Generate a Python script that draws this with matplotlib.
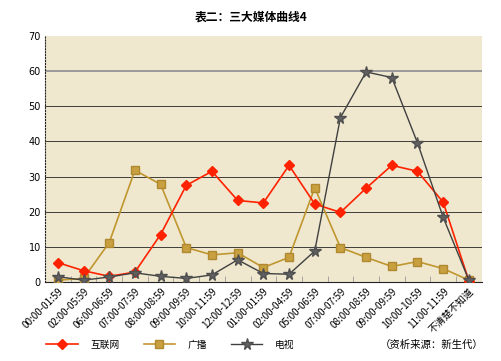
import matplotlib
matplotlib.use("Agg")
import matplotlib.pyplot as plt
from matplotlib.lines import Line2D

plt.rcParams['font.family'] = ['Noto Sans CJK SC', 'DejaVu Sans']

categories = ["00:00-01:59", "02:00-05:59", "06:00-06:59", "07:00-07:59", "08:00-08:59",
              "09:00-09:59", "10:00-11:59", "12:00-12:59", "01:00-01:59", "02:00-04:59",
              "05:00-06:59", "07:00-07:59", "08:00-08:59", "09:00-09:59", "10:00-10:59",
              "11:00-11:59", "不清楚不知道"]
internet = [5.5, 3.2, 1.6, 2.8, 13.5, 27.5, 31.5, 23.2, 22.5, 33.2, 22.2, 19.8, 26.7, 33.2, 31.5, 22.7, 0.3]
radio = [0.5, 1.0, 11.2, 31.8, 27.8, 9.8, 7.7, 8.3, 4.1, 7.0, 26.8, 9.8, 7.0, 4.4, 5.8, 3.8, 0.5]
tv = [1.5, 0.5, 1.4, 2.6, 1.6, 1.0, 2.0, 6.3, 2.4, 2.2, 8.8, 46.8, 59.8, 58.2, 39.6, 18.4, 0.5]
series_names = ["互联网", "广播", "电视"]
yticks = [0, 10, 20, 30, 40, 50, 60, 70]

fig = plt.figure(figsize=(5.02, 3.61), dpi=100)
ax = fig.add_axes([0.0896, 0.219, 0.870, 0.681])
ax.set_facecolor('#EFE8CF')
x = list(range(len(categories)))

for yv in yticks[1:-1]:
    ax.axhline(yv, color='#999999' if yv == 60 else '#222222', lw=1.4 if yv == 60 else 0.6, zorder=1)

style_r = dict(color='#C0962E', lw=1.2, marker='s', ms=5.5, mfc='#C8A040', mec='#B08830')
style_i = dict(color='#FF2200', lw=1.2, marker='D', ms=5, mfc='#FF2200', mec='#FF2200')
style_t = dict(color='#404040', lw=1.0, marker='*', ms=8.5, mfc='#606060', mec='#505050')

ax.plot(x, radio, zorder=3, **style_r)
ax.plot(x, internet, zorder=4, **style_i)
ax.plot(x, tv, zorder=5, **style_t)

ax.set_xlim(-0.5, 16.5)
ax.set_ylim(0, 70)
ax.set_yticks(yticks)
ax.set_yticklabels([str(v) for v in yticks], fontsize=7, family=['DejaVu Sans'])
ax.set_xticks(x)
ax.set_xticklabels(categories, rotation=45, ha='right', rotation_mode='anchor', fontsize=7)
ax.tick_params(axis='x', length=0, pad=3)
ax.set_xticks([i + 0.5 for i in x[:-1]], minor=True)
ax.tick_params(axis='x', which='minor', length=4, color='#999999', direction='in')
ax.tick_params(axis='y', length=0, pad=3)
for s in ['top', 'right']:
    ax.spines[s].set_visible(False)
ax.spines['left'].set_linestyle(':')
ax.spines['left'].set_color('#222222')
ax.spines['bottom'].set_color('#222222')

fig.text(0.5, 0.953, "表二：三大媒体曲线4", ha='center', va='center', fontsize=8.5, fontweight='bold')

handles = [Line2D([], [], **style_i), Line2D([], [], **style_r), Line2D([], [], **style_t)]
fig.legend(handles, series_names, loc='center left', bbox_to_anchor=(0.075, 0.045), ncol=3,
           frameon=False, fontsize=7, handlelength=3.2, columnspacing=2.5, handletextpad=1.3)
fig.text(0.963, 0.045, "（资析来源：新生代）", ha='right', va='center', fontsize=7.5)

fig.savefig("out.png", dpi=100)
